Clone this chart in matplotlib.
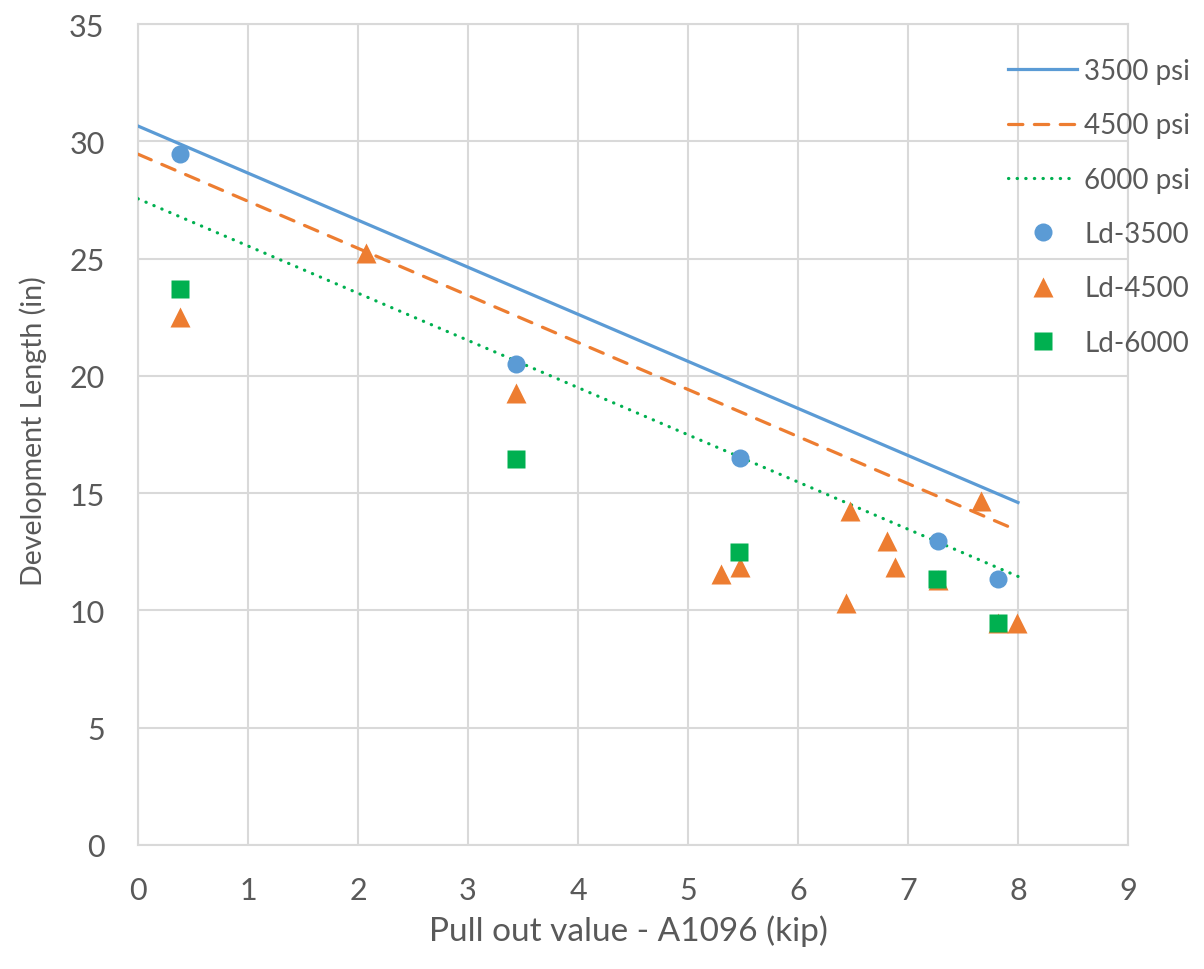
import matplotlib
matplotlib.use('Agg')
import matplotlib.pyplot as plt

# ── Data ───────────────────────────────────────────────
line_x = [0, 8]
line_3500 = [30.65, 14.6]
line_4500 = [29.45, 13.4]
line_6000 = [27.55, 11.45]

ld3500_x = [0.38, 3.44, 5.47, 7.27, 7.82]
ld3500_y = [29.45, 20.5, 16.5, 12.95, 11.35]

ld4500_x = [0.38, 2.07, 3.44, 5.30, 5.47, 6.44, 6.47, 6.81, 6.88, 7.27, 7.66, 7.82, 7.99]
ld4500_y = [22.5, 25.25, 19.25, 11.55, 11.85, 10.3, 14.25, 12.95, 11.85, 11.3, 14.65, 9.45, 9.45]

ld6000_x = [0.38, 3.44, 5.46, 7.26, 7.82]
ld6000_y = [23.7, 16.45, 12.5, 11.35, 9.45]

x_ticks = list(range(0, 10))
y_ticks = list(range(0, 36, 5))

# ── Style ──────────────────────────────────────────────
BLUE = '#5B9BD5'
ORANGE = '#ED7D31'
GREEN = '#00B050'
GRID = '#D9D9D9'
TEXT = '#595959'

plt.rcParams['font.family'] = ['Lato', 'DejaVu Sans']

fig = plt.figure(figsize=(12.04, 9.70), dpi=100)
ax = fig.add_axes([138 / 1204, 1 - 846 / 970, (1128 - 138) / 1204, (846 - 25) / 970])

ax.plot(line_x, line_3500, color=BLUE, lw=2.3, label='3500 psi', zorder=3)
ax.plot(line_x, line_4500, color=ORANGE, lw=2.3, dashes=(4.5, 3.6),
        dash_capstyle='round', label='4500 psi', zorder=3)
ax.plot(line_x, line_6000, color=GREEN, lw=2.3, linestyle=(0, (0.1, 2.6)),
        dash_capstyle='round', label='6000 psi', zorder=3)

ax.plot(ld3500_x, ld3500_y, 'o', color=BLUE, ms=13, mec='none', label='Ld-3500', zorder=4)
ax.plot(ld4500_x, ld4500_y, '^', color=ORANGE, ms=15, mec='none', label='Ld-4500', zorder=5)
ax.plot(ld6000_x, ld6000_y, 's', color=GREEN, ms=13.5, mec='none', label='Ld-6000', zorder=6)

ax.set_xlim(0, 9)
ax.set_ylim(0, 35)
ax.set_xticks(x_ticks)
ax.set_yticks(y_ticks)
ax.grid(True, color=GRID, lw=1.5, zorder=0)
ax.set_axisbelow(True)
for side in ['top', 'right', 'left', 'bottom']:
    ax.spines[side].set_color(GRID)
    ax.spines[side].set_linewidth(1.5)
ax.tick_params(length=0, labelsize=22, colors=TEXT)
ax.tick_params(axis='x', pad=22)
ax.tick_params(axis='y', pad=24)

ax.set_xlabel('Pull out value - A1096 (kip)', fontsize=24, color=TEXT)
ax.set_ylabel('Development Length (in)', fontsize=20.5, color=TEXT)
ax.xaxis.set_label_coords(0.495, -0.085)
ax.yaxis.set_label_coords(-0.092, 0.505)

fig.legend(loc='upper left', bbox_to_anchor=(1008 / 1204, 1 - 59 / 970),
           frameon=False, fontsize=20, labelcolor=TEXT, handlelength=2.5,
           handletextpad=0.25, labelspacing=1.02, borderaxespad=0, borderpad=0)

fig.savefig('out.png', dpi=100)
